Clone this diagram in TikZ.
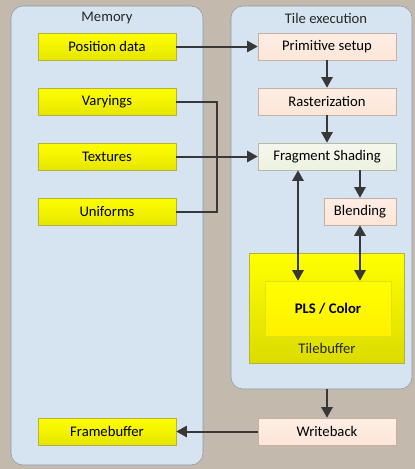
\documentclass[tikz,border=0pt]{standalone}
\usepackage{fontspec}
\setmainfont{Carlito}
\usetikzlibrary{arrows.meta}

\definecolor{bgstone}{HTML}{C3BAAD}
\definecolor{panelblue}{HTML}{D6E4F1}
\definecolor{panelrim}{HTML}{8C97A3}
\definecolor{memyellow}{HTML}{FFFF00}
\definecolor{yellowrim}{HTML}{B3B33C}
\definecolor{peach}{HTML}{FDE6D8}
\definecolor{peachrim}{HTML}{C8AFA0}
\definecolor{fraggreen}{HTML}{EEF2E1}
\definecolor{greenrim}{HTML}{B4BAA4}
\definecolor{wirecol}{HTML}{383838}

\tikzset{
  panel/.style={draw=panelrim, fill=panelblue, rounded corners=9pt, inner sep=0pt},
  title/.style={text=black!85},
  membox/.style={draw=yellowrim, top color=memyellow, bottom color=memyellow!90!black,
    minimum width=103.5pt, minimum height=20.25pt, inner sep=0pt},
  stagebox/.style={draw=peachrim, top color=peach!70!white, bottom color=peach,
    minimum width=103.5pt, minimum height=20.25pt, inner sep=0pt},
  wire/.style={draw=wirecol, line width=1.5pt},
  flow/.style={wire, -{Triangle[length=8pt,width=8.5pt]}},
  duplex/.style={wire, {Triangle[length=8pt,width=8.5pt]}-{Triangle[length=8pt,width=8.5pt]}},
}

\begin{document}
\begin{tikzpicture}[x=0.75pt, y=-0.75pt, font=\fontsize{11}{13}\selectfont]
	% background
	\fill[bgstone] (0,0) rectangle (415,469);
	\useasboundingbox (0,0) rectangle (415,469);

	% panels
	\node[panel, minimum width=144pt, minimum height=344.25pt] (mem) at (107,235.5) {};
	\node[panel, minimum width=135.75pt, minimum height=287.25pt] (tile) at (321.5,197.5) {};
	\node[title] (memtitle) at (107,18) {Memory};
	\node[title] (tiletitle) at (326,18) {Tile execution};

	% memory side
	\node[membox] (pos) at (107,46.5) {Position data};
	\node[membox] (vary) at (107,101.5) {Varyings};
	\node[membox] (tex) at (107,156.5) {Textures};
	\node[membox] (unif) at (107,211.5) {Uniforms};
	\node[membox] (frame) at (107,431.5) {Framebuffer};

	% tile side
	\node[stagebox] (prim) at (327,46.5) {Primitive setup};
	\node[stagebox] (rast) at (327,101.5) {Rasterization};
	\node[stagebox, draw=greenrim, top color=fraggreen!60!white, bottom color=fraggreen] (frag) at (327,156.5) {Fragment Shading};
	\node[stagebox, minimum width=54pt] (blend) at (360,211.5) {Blending};
	\node[membox, bottom color=memyellow!86!black, minimum width=116.25pt, minimum height=82.5pt] (tbuf) at (326.5,308) {};
	\node[title] (tbuflabel) at (327,348) {Tilebuffer};
	\node[draw=yellowrim!40!memyellow, top color=memyellow, bottom color=memyellow!88!orange,
	  minimum width=94.5pt, minimum height=41.25pt, inner sep=0pt, font=\fontsize{11}{13}\selectfont\bfseries] (pls) at (328,308.5) {PLS / Color};
	\node[stagebox] (wb) at (327,431.5) {Writeback};

	% lanes
	\coordinate (bus) at (217,0);
	\coordinate (leftlane) at (298,0);

	% position data to setup
	\draw[flow] (pos) -- (prim);
	\draw[flow] (prim) -- (rast);
	\draw[flow] (rast) -- (frag);

	% varyings and uniforms join, textures to shading
	\draw[wire] (vary.east) -| (bus |- tex.east) |- (unif.east);
	\draw[flow] (tex) -- (frag);

	% shading to blending to tilebuffer
	\draw[duplex] (frag.south -| leftlane) -- (pls.north -| leftlane);
	\draw[flow] (frag.south -| blend.north) -- (blend.north);
	\draw[duplex] (blend.south) -- (pls.north -| blend.south);

	% writeback
	\draw[flow] (tile.south -| wb.north) -- (wb.north);
	\draw[flow] (wb) -- (frame);
\end{tikzpicture}
\end{document}
